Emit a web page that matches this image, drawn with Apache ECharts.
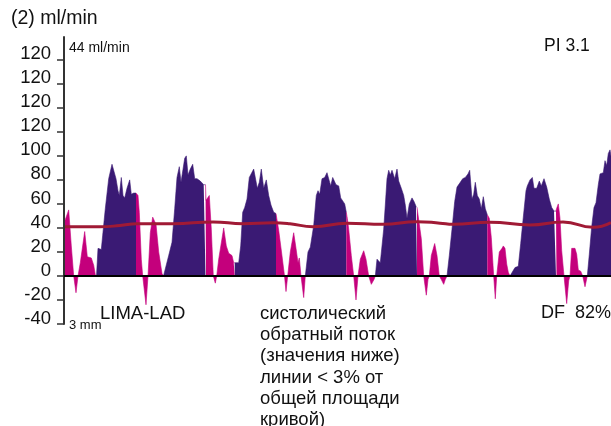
<!DOCTYPE html>
<html>
<head>
<meta charset="utf-8">
<script src="https://cdn.jsdelivr.net/npm/echarts@6/dist/echarts.min.js"></script>
<style>
  html, body { margin: 0; padding: 0; background: #fff; }
  #chart { width: 611px; height: 426px; }
</style>
</head>
<body>
<div id="chart"></div>
<script>
// Doppler flow trace of the LIMA-LAD graft (time in 1/100 s, flow in ml/min)
const timeCs = [
  0, 4.7, 7.3, 9.7, 12, 14, 16.3, 20.7, 23.3, 27.3, 29.7, 31.3, 32.5,
  34, 37.3, 38.7, 41.3, 44.7, 48, 50, 52, 54, 55.3, 57.3, 59, 60.7, 63, 65.7, 67.3, 69.7, 72,
  74, 75.3, 77.3, 78.7, 82, 84, 86.3, 88.7, 92, 94.7, 98, 99.5,
  101.3, 104.7, 108, 110.7, 113, 115.3, 117, 119, 120.7, 122.3, 124, 126.3, 128.7, 130.7, 133, 136.3, 139.7, 141.5,
  142, 145.3, 147.3, 149.3, 151.3, 152.7, 154.7, 159.7, 162.3, 164.7, 168, 169.7, 170.7,
  174.7, 176.7, 178.7, 180.7, 183, 185.3, 187.3, 189.7, 191.3, 193.3, 195.3, 197.3, 199.7, 202.3, 204.7, 207, 209.7, 212,
  214.7, 217.5, 220.5, 222, 223.7, 226.3, 229.7, 232, 234, 235.3, 237, 239.7, 241.3,
  244, 246.3, 249.7, 252.3, 254, 255.7, 258, 260.7, 263, 264.7, 266.7, 268.7, 270.7, 272, 274.7, 276.7, 278.7, 280.7, 282.3,
  283.3, 284.7, 287.3, 289.7, 292, 294, 296.3, 299.7, 302, 304.7, 307.3, 310, 311.3,
  313, 314.7, 316.3, 318, 319.7, 321.3, 323, 324.7, 326.3, 328, 330.7, 333, 334.7, 337.3, 339.7, 341.3, 343, 345.3, 348, 350, 352, 353,
  354.7, 357.3, 359.7, 362.3, 364, 365.3, 367.3, 370.7, 373, 375.3, 377.3, 379.7, 381.3, 383,
  385.3, 388, 390.7, 393, 396.3, 398.7, 401.3, 404, 405.7, 408, 409.7, 411.3, 413.3, 415.3, 417.3, 419.3, 421.3, 423.3,
  425.3, 427.3, 429.7, 431.3, 432.7, 435.3, 438, 439.3, 441, 442.7, 444.3, 446,
  447.7, 451, 454.3, 456.7, 459.3, 462, 463.3, 466, 468.3, 470, 472.7, 475.3, 477.3, 480, 482.7, 485.3, 487.7, 490, 492,
  492.5, 494.3, 496, 497.7, 500, 502.7, 504.7, 506, 507.7, 511, 512.7, 514.3, 516.7, 518.7, 521, 523.3,
  525.3, 527.7, 530, 532, 534.3, 536, 539.3, 541, 542.7, 544.3, 546, 547
];
const flowMlMin = [
  44, 55, 25, 0, -14, 0, 11, 37, 16, 15, 9, 1, 0,
  23, 22, 34, 56, 81, 93, 92, 81, 71, 67, 82, 67, 65, 73, 80, 68, 69, 69,
  67, 53, 14, 0, -24, 0, 36, 49, 43, 20, 2, 0,
  0, 17, 28, 56, 82, 91, 78, 78, 98, 100, 84, 89, 93, 81, 81, 79, 76, 76,
  63, 67, 39, 0, -6, 0, 14, 40, 25, 19, 17, 11, 11,
  11, 25, 53, 57, 64, 82, 82, 89, 88, 73, 78, 89, 73, 80, 67, 59, 53, 52,
  38, 20, 0, -13, 0, 20, 36, 23, 11, 15, 0, -18, 0,
  20, 24, 42, 67, 71, 68, 81, 82, 86, 86, 75, 82, 82, 76, 75, 65, 65, 60, 53,
  48, 39, 17, 0, -20, 0, 14, 21, 14, 0, -7, -3, 0,
  14, 15, 11, 10, 39, 59, 81, 88, 84, 88, 81, 89, 79, 73, 67, 59, 48, 60, 65, 62, 58, 57,
  56, 31, 0, -16, -3, 0, 17, 27, 17, 0, -3, -7, -3, 0,
  17, 39, 62, 74, 78, 81, 82, 85, 88, 64, 68, 78, 67, 64, 56, 66, 56, 51,
  48, 32, 0, -19, 0, 20, 23, 25, 23, 10, 3, 0,
  0, 7, 8, 27, 49, 71, 75, 80, 82, 73, 73, 79, 75, 81, 74, 64, 57, 54, 54,
  56, 60, 48, 21, 0, -23, -4, 0, 23, 23, 18, 5, 4, 0, -9, 0,
  18, 41, 57, 61, 76, 85, 86, 96, 92, 102, 105, 100
];
// onset of each systolic (magenta) and diastolic (purple) phase
const systoleOnsets = [0, 74, 142, 214.7, 283.3, 354.7, 425.3, 492.5];
const diastoleOnsets = [34, 101.3, 174.7, 244, 313, 385.3, 447.7, 525.3];

// running mean flow
const meanT = [0, 36, 56, 73, 109, 149, 179, 209, 226, 249, 283, 319, 353, 376, 389, 426, 466, 499, 529, 547];
const meanFlow = [41, 41, 42, 43.5, 43.5, 45, 43.5, 44.3, 43.5, 41, 44, 43, 45.2, 44, 43, 44.8, 42.5, 45, 40.5, 44.5];

// axis tick values and their printed labels
const yTickValues = [-40, -20, 0, 20, 40, 60, 80, 100, 120, 140, 160, 180];
const yTickLabels = ['-40', '-20', '0', '20', '40', '60', '80', '100', '120', '120', '120', '120'];

function lastOnset(list, t) {
  let best = -Infinity;
  for (const o of list) if (o <= t && o > best) best = o;
  return best;
}
const phase = timeCs.map(t => lastOnset(diastoleOnsets, t) > lastOnset(systoleOnsets, t) ? 'D' : 'S');

function phaseData(p) {
  return timeCs.map((t, i) => {
    const inPhase = phase[i] === p || (i + 1 < phase.length && phase[i + 1] === p);
    return [t, inPhase ? flowMlMin[i] : '-'];
  });
}

const FONT = '"Liberation Sans", Arial, Helvetica, sans-serif';
const chart = echarts.init(document.getElementById('chart'), null, { renderer: 'canvas' });

chart.setOption({
  animation: false,
  backgroundColor: '#ffffff',
  grid: { left: 64, right: 0, top: 37, bottom: 102, containLabel: false },
  xAxis: {
    type: 'value',
    min: 0,
    max: 547,
    z: 5,
    axisLine: { show: true, onZero: true, lineStyle: { color: '#000', width: 2 } },
    axisTick: { show: false },
    axisLabel: { show: false },
    splitLine: { show: false }
  },
  yAxis: {
    type: 'value',
    min: -40,
    max: 199,
    interval: 20,
    z: 5,
    axisLine: { show: true, lineStyle: { color: '#333', width: 2 } },
    axisTick: {
      show: true, length: 7, customValues: yTickValues,
      lineStyle: { color: '#333', width: 1.5 }
    },
    axisLabel: {
      show: true,
      customValues: yTickValues,
      margin: 13,
      fontFamily: FONT,
      fontSize: 18.5,
      color: '#111',
      verticalAlign: 'bottom',
      lineHeight: 11,
      formatter: v => {
        const k = yTickValues.indexOf(v);
        return k >= 0 ? yTickLabels[k] : '';
      }
    },
    splitLine: { show: false }
  },
  series: [
    {
      name: 'diastolic',
      type: 'line',
      data: phaseData('D'),
      showSymbol: false,
      connectNulls: false,
      lineStyle: { width: 0.6, color: '#3a1a74' },
      areaStyle: { color: '#3a1a74', opacity: 1 },
      z: 2
    },
    {
      name: 'systolic',
      type: 'line',
      data: phaseData('S'),
      showSymbol: false,
      connectNulls: false,
      lineStyle: { width: 0.6, color: '#c4007c' },
      areaStyle: { color: '#c4007c', opacity: 1 },
      z: 2
    },
    {
      name: 'mean',
      type: 'line',
      data: meanT.map((t, i) => [t, meanFlow[i]]),
      smooth: 0.5,
      showSymbol: false,
      lineStyle: { width: 3, color: '#a01a35' },
      z: 4
    }
  ],
  graphic: [
    { type: 'text', style: { text: '(2) ml/min', x: 11, y: 19, font: '19.5px ' + FONT, fill: '#111', textVerticalAlign: 'middle' } },
    { type: 'text', style: { text: '44 ml/min', x: 69, y: 48, font: '14px ' + FONT, fill: '#111', textVerticalAlign: 'middle' } },
    { type: 'text', style: { text: 'PI 3.1', x: 544, y: 46, font: '17.5px ' + FONT, fill: '#111', textVerticalAlign: 'middle' } },
    { type: 'text', style: { text: 'LIMA-LAD', x: 100, y: 313.5, font: '18.5px ' + FONT, fill: '#111', textVerticalAlign: 'middle' } },
    { type: 'text', style: { text: '3 mm', x: 69, y: 325.5, font: '13px ' + FONT, fill: '#111', textVerticalAlign: 'middle' } },
    { type: 'text', style: { text: 'DF  82%', x: 541, y: 313.5, font: '18px ' + FONT, fill: '#111', textVerticalAlign: 'middle' } },
    {
      type: 'text',
      style: {
        text: 'систолический\nобратный поток\n(значения ниже)\nлинии < 3% от\nобщей площади\nкривой)',
        x: 260, y: 303, font: '18.5px ' + FONT, lineHeight: 21.3, fill: '#111', textVerticalAlign: 'top'
      }
    }
  ]
});
</script>
</body>
</html>
